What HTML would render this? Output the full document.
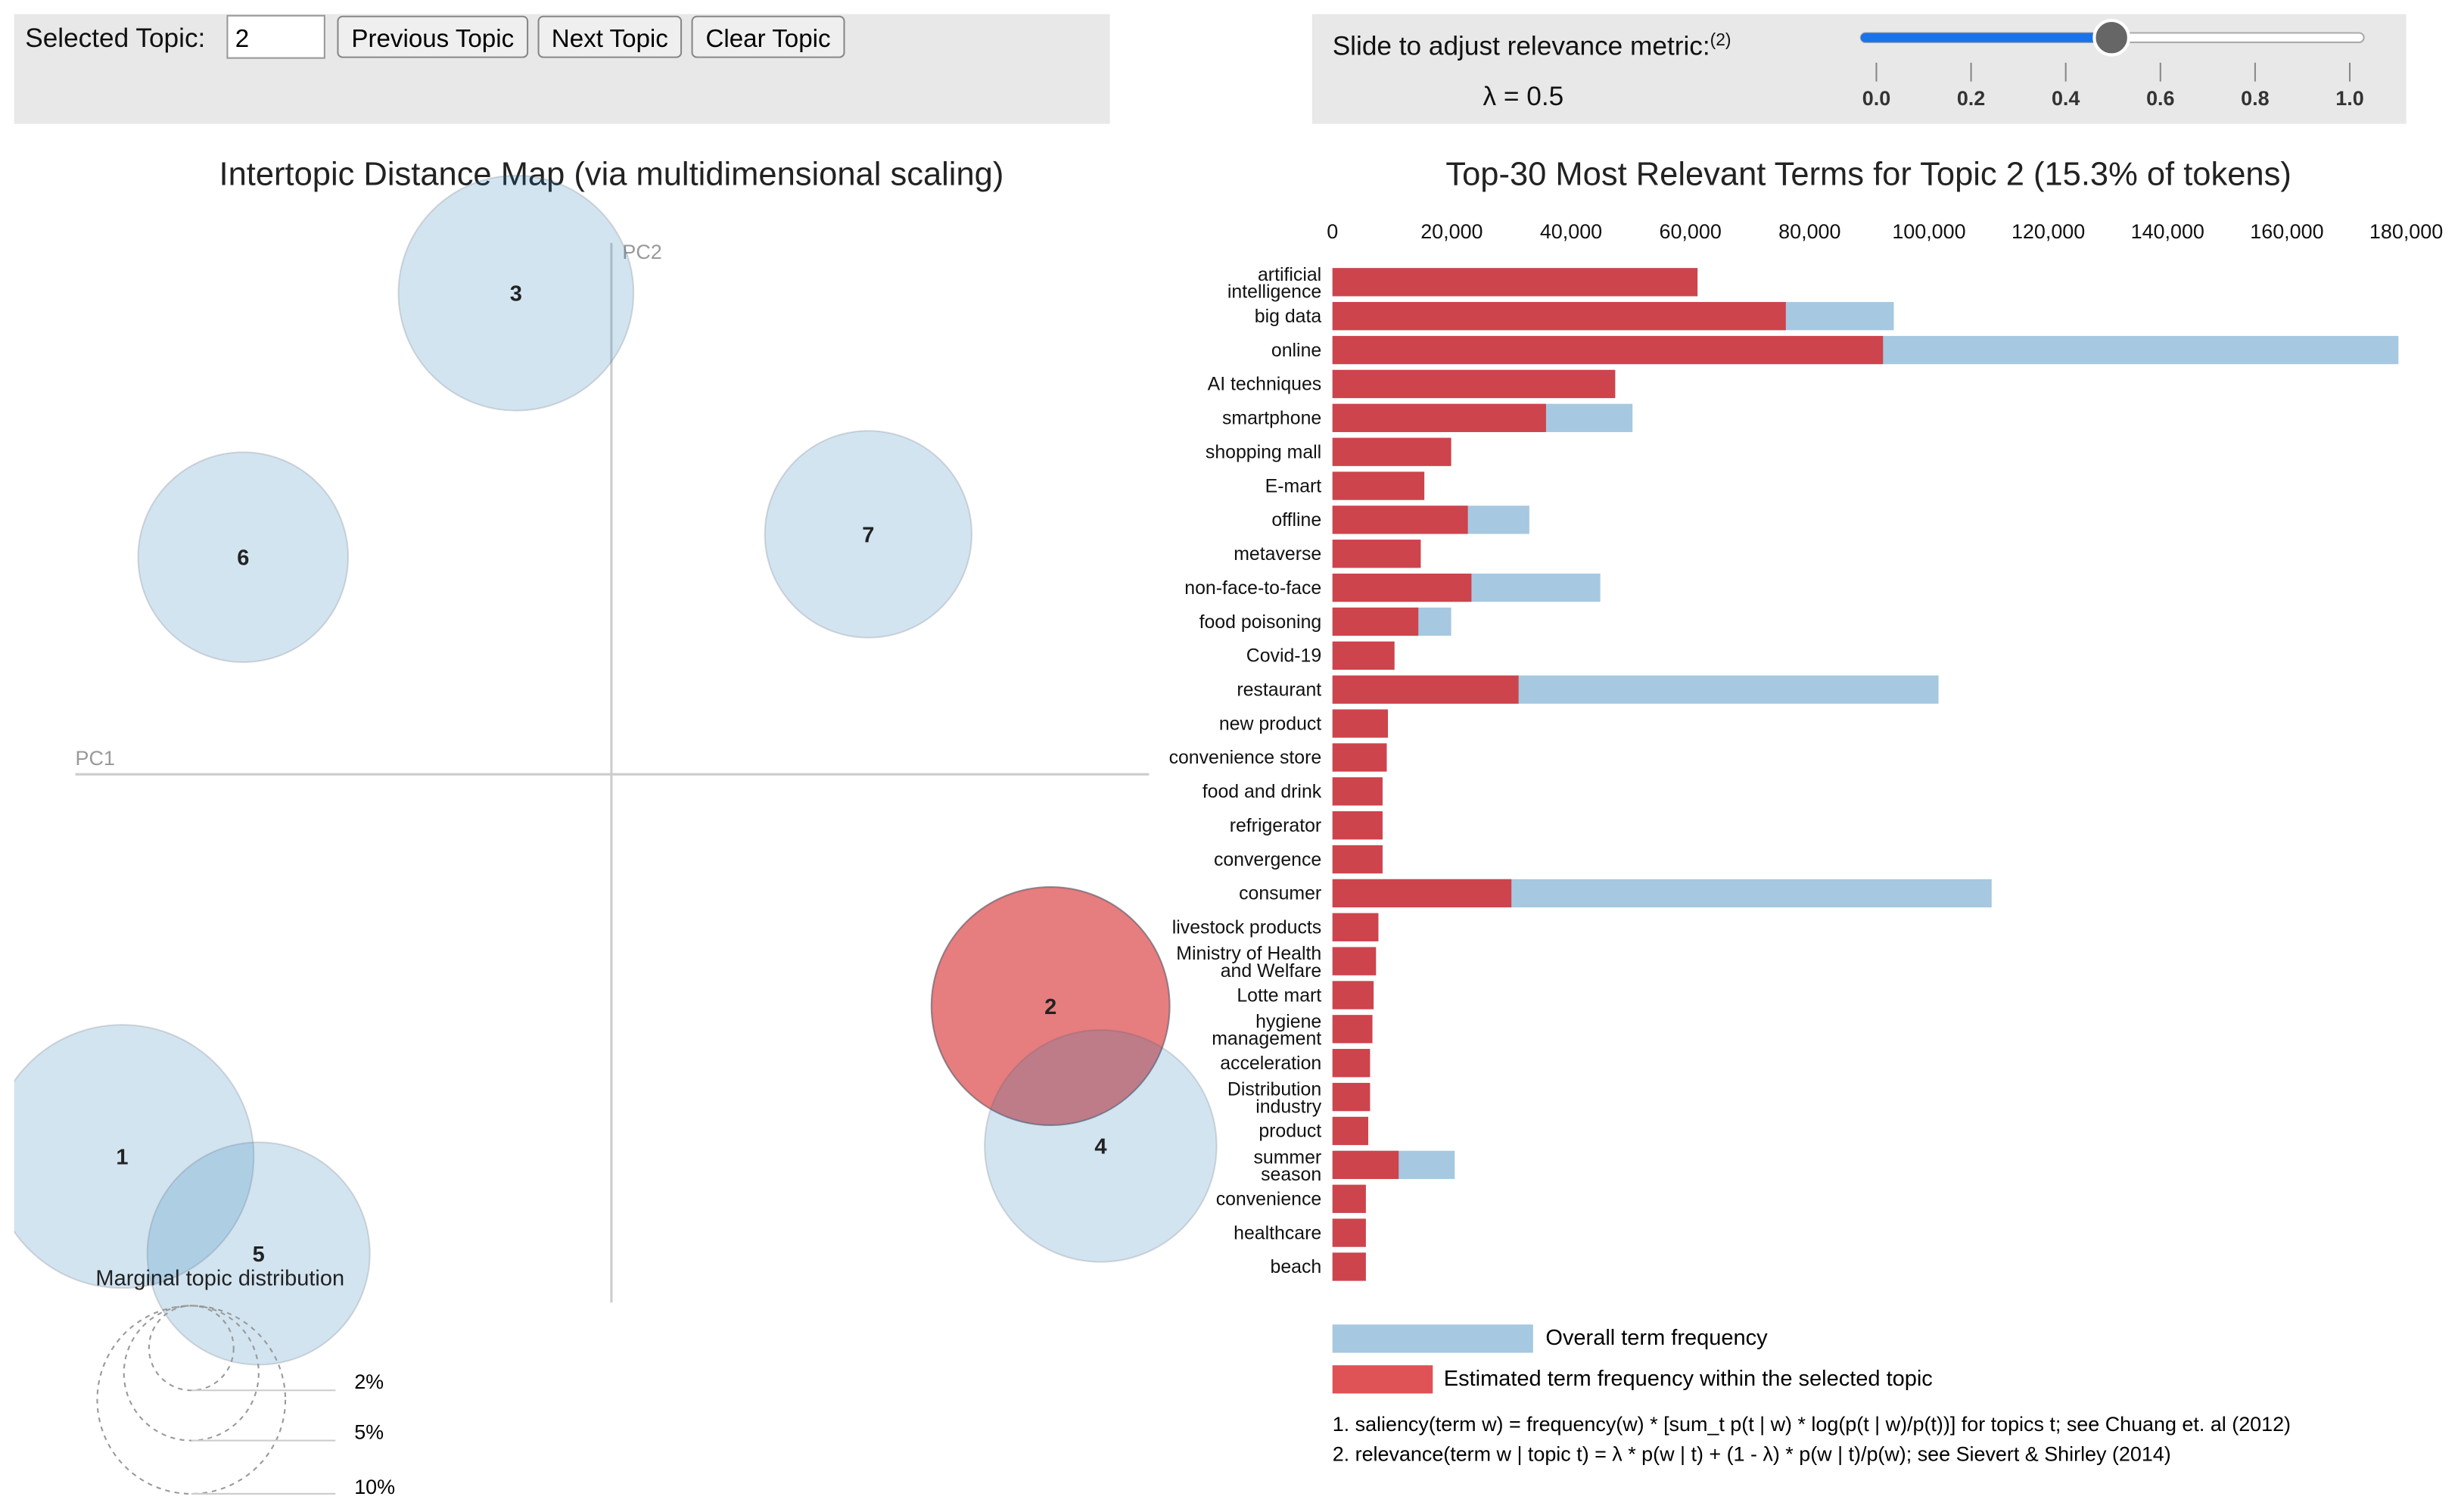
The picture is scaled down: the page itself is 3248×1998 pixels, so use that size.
<!DOCTYPE html>
<html><head><meta charset="utf-8"><style>
html,body{margin:0;padding:0;background:#fff;}
svg{display:block;font-family:"Liberation Sans",sans-serif;}
</style></head><body>
<svg id="root" width="3248" height="1998" viewBox="0 0 1568 964.6" xmlns="http://www.w3.org/2000/svg">
<g>
<rect x="9" y="9" width="699" height="70" fill="#e8e8e8"/>
<text x="16" y="30" font-size="17" fill="#111">Selected Topic:</text>
<g><rect x="145" y="10" width="62" height="27" fill="#fff" stroke="#999"/><text x="150" y="30" font-size="16">2</text></g>
<g><rect x="215.5" y="10.5" width="121" height="26" rx="3" fill="#efefef" stroke="#888"/><text x="276" y="30" font-size="16" text-anchor="middle">Previous Topic</text></g>
<g><rect x="343.5" y="10.5" width="91" height="26" rx="3" fill="#efefef" stroke="#888"/><text x="389" y="30" font-size="16" text-anchor="middle">Next Topic</text></g>
<g><rect x="441.5" y="10.5" width="97" height="26" rx="3" fill="#efefef" stroke="#888"/><text x="490" y="30" font-size="16" text-anchor="middle">Clear Topic</text></g>
</g>
<g>
<rect x="837" y="9" width="698" height="70" fill="#e8e8e8"/>
<text x="850" y="35" font-size="17" fill="#111">Slide to adjust relevance metric:<tspan font-size="11" dy="-6">(2)</tspan></text>
<text x="946" y="67" font-size="17" fill="#111">λ = 0.5</text>
<g>
<rect x="1187" y="21" width="321" height="6" rx="3" fill="#fff" stroke="#aaa"/>
<rect x="1187" y="21" width="160" height="6" rx="3" fill="#1a73e8"/>
<circle cx="1347" cy="24" r="11" fill="#666" stroke="#fff" stroke-width="2"/>
</g>
<g id="sliderTicks"></g>
</g>
<text x="390" y="118" font-size="21" text-anchor="middle" fill="#222">Intertopic Distance Map (via multidimensional scaling)</text>
<text x="1192" y="118" font-size="21" text-anchor="middle" fill="#222">Top-30 Most Relevant Terms for Topic 2 (15.3% of tokens)</text>
<defs><clipPath id="mdsclip"><rect x="9" y="100" width="790" height="860"/></clipPath></defs>
<g clip-path="url(#mdsclip)">
<line x1="390" y1="155" x2="390" y2="831" stroke="#ccc" stroke-width="1.5"/>
<text x="397" y="165" font-size="13" fill="#999">PC2</text>
<line x1="48" y1="494" x2="733" y2="494" stroke="#ccc" stroke-width="1.5"/>
<text x="48" y="488" font-size="13" fill="#999">PC1</text>
<g id="circles"></g>
</g>
<g>
<text x="61" y="820" font-size="14" fill="#222">Marginal topic distribution</text>
<circle cx="122" cy="860" r="27" fill="none" stroke="#999" stroke-dasharray="3 3"/>
<circle cx="122" cy="876" r="43" fill="none" stroke="#999" stroke-dasharray="3 3"/>
<circle cx="122" cy="893" r="60" fill="none" stroke="#999" stroke-dasharray="3 3"/>
<line x1="122" y1="887" x2="214" y2="887" stroke="#ccc"/>
<line x1="122" y1="919" x2="214" y2="919" stroke="#ccc"/>
<line x1="122" y1="953" x2="214" y2="953" stroke="#ccc"/>
<text x="226" y="886" font-size="13">2%</text>
<text x="226" y="918" font-size="13">5%</text>
<text x="226" y="953" font-size="13">10%</text>
</g>
<g id="bars"></g>
<g>
<rect x="850" y="845" width="128" height="18" fill="#a6c8e0"/>
<text x="986" y="858" font-size="14">Overall term frequency</text>
<rect x="850" y="871" width="64" height="18" fill="#df5256"/>
<text x="921" y="884" font-size="14">Estimated term frequency within the selected topic</text>
</g>
<text x="850" y="913" font-size="13">1. saliency(term w) = frequency(w) * [sum_t p(t | w) * log(p(t | w)/p(t))] for topics t; see Chuang et. al (2012)</text>
<text x="850" y="932" font-size="13">2. relevance(term w | topic t) = λ * p(w | t) + (1 - λ) * p(w | t)/p(w); see Sievert &amp; Shirley (2014)</text>
</svg>
<script>
const NS="http://www.w3.org/2000/svg";
const terms=["artificial|intelligence","big data","online","AI techniques","smartphone","shopping mall","E-mart","offline","metaverse","non-face-to-face","food poisoning","Covid-19","restaurant","new product","convenience store","food and drink","refrigerator","convergence","consumer","livestock products","Ministry of Health|and Welfare","Lotte mart","hygiene|management","acceleration","Distribution|industry","product","summer|season","convenience","healthcare","beach"];
const topicFreq=[61200,76000,92300,47400,35800,19900,15400,22700,14800,23300,14400,10400,31200,9300,9100,8400,8400,8400,30000,7700,7300,6900,6700,6300,6300,6000,11100,5600,5600,5600];
const overallFreq=[61200,94100,178700,47400,50300,19900,15400,33000,14800,44900,19900,10400,101600,9300,9100,8400,8400,8400,110500,7700,7300,6900,6700,6300,6300,6000,20500,5600,5600,5600];
const xTicks=[0,20000,40000,60000,80000,100000,120000,140000,160000,180000];
const sliderTickLabels=["0.0","0.2","0.4","0.6","0.8","1.0"];
const topicIds=[3,6,7,1,5,2,4];
const topicX=[-0.179,-0.691,0.482,-0.918,-0.662,0.824,0.918];
const topicY=[0.461,0.208,0.230,-0.366,-0.459,-0.222,-0.356];
const topicSize=[7.5,6.7,6.6,8.4,7.1,7.6,7.4];

function xs(v){return 850+v*685/180000;}
function rowY(i){return 180+i*21.66;}
function mk(tag,attrs,parent){const e=document.createElementNS(NS,tag);for(const k in attrs)e.setAttribute(k,attrs[k]);parent.appendChild(e);return e;}

const st=document.getElementById('sliderTicks');
sliderTickLabels.forEach((t,i)=>{const x=1197+i*60.4;
  const l=mk('line',{x1:x,y1:40,x2:x,y2:52,stroke:'#888'},st);
  
  
  const tx=mk('text',{x:x,y:67,'font-size':13,'text-anchor':'middle','font-weight':'bold',fill:'#333'},st);tx.textContent=t;
  
  
});

const cg=document.getElementById('circles');
function mx(v){return 390+v*340;}
function my(v){return 494-v*666;}
topicIds.forEach((id,i)=>{
  const sel=id===2;
  const c=mk('circle',{cx:mx(topicX[i]),cy:my(topicY[i]),r:topicSize[i]*10,fill:sel?'#d62728':'#1f77b4','fill-opacity':sel?0.6:0.2,stroke:'#556','stroke-opacity':sel?0.6:0.2},cg);
  
  
});
topicIds.forEach((id,i)=>{
  const t=mk('text',{x:mx(topicX[i]),y:my(topicY[i])+5,'font-size':14,'font-weight':'bold','text-anchor':'middle',fill:'#222'},cg);t.textContent=id;
  
  
});

const bg=document.getElementById('bars');
xTicks.forEach(v=>{
  const t=mk('text',{x:xs(v),y:152,'font-size':13,'text-anchor':'middle',fill:'#111'},bg);t.textContent=v.toLocaleString('en-US');
  
  
});
terms.forEach((term,i)=>{
  const y=rowY(i);
  const b=mk('rect',{x:xs(0),y:y-9,width:xs(overallFreq[i])-xs(0),height:18,fill:'#a6c8e0'},bg);
  
  
  const r=mk('rect',{x:xs(0),y:y-9,width:xs(topicFreq[i])-xs(0),height:18,fill:'#cd444c'},bg);
  
  
  const parts=term.split('|');
  parts.forEach((p,k)=>{
    const dy=parts.length===1?4:(k===0?-1:10);
    const t=mk('text',{x:843,y:y+dy,'font-size':12,'text-anchor':'end',fill:'#111'},bg);t.textContent=p;
    
    
  });
});
</script>
</body></html>
